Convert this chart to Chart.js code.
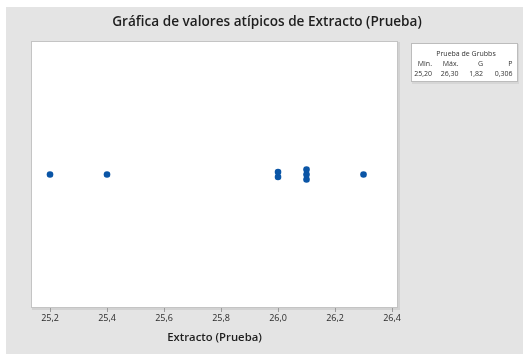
<!DOCTYPE html>
<html>
<head>
<meta charset="utf-8">
<script src="https://cdn.jsdelivr.net/npm/chart.js@4.4.0/dist/chart.umd.min.js"></script>
<style>
  html, body { margin: 0; padding: 0; background: #ffffff; }
  #wrap { width: 523px; height: 354px; }
</style>
</head>
<body>
<div id="wrap"><canvas id="outlierChart" width="523" height="354"></canvas></div>
<script>
"use strict";

// datos de la prueba (Extracto)
var extracto = [25.2, 25.4, 26.0, 26.0, 26.1, 26.1, 26.1, 26.3];
var xTicks = [25.2, 25.4, 25.6, 25.8, 26.0, 26.2, 26.4];
var grubbsHeaders = ['Min.', 'Máx.', 'G', 'P'];
var grubbsValues = ['25,20', '26,30', '1,82', '0,306'];

var chartTitle = 'Gráfica de valores atípicos de Extracto (Prueba)';
var axisTitle = 'Extracto (Prueba)';

// apilar puntos repetidos (como el gráfico de puntos de Minitab)
var counts = {};
extracto.forEach(function (v) { counts[v] = (counts[v] || 0) + 1; });
var seen = {};
var points = extracto.map(function (v) {
    var n = counts[v];
    var i = seen[v] || 0;
    seen[v] = i + 1;
    return { x: v, y: (i - (n - 1) / 2) * 0.5 };
});

var fontFam = '"Open Sans", "Noto Sans", sans-serif';

var decor = {
    id: 'decor',
    beforeDraw: function (chart) {
        var c = chart.ctx;
        var a = chart.chartArea;
        c.save();
        c.fillStyle = '#e4e4e4';
        c.fillRect(6, 7, chart.width - 6, chart.height - 7);
        // plot area
        c.fillStyle = '#d2d2d2';
        c.fillRect(a.left + 1, a.top + 1, a.right - a.left + 1, a.bottom - a.top + 1);
        c.fillStyle = '#ffffff';
        c.fillRect(a.left, a.top, a.right - a.left, a.bottom - a.top);
        c.strokeStyle = '#c4c4c4';
        c.lineWidth = 1;
        c.strokeRect(a.left + 0.5, a.top + 0.5, a.right - a.left - 1, a.bottom - a.top - 1);
        // title
        c.fillStyle = '#1e1e1e';
        c.font = '600 13.6px ' + fontFam;
        c.textAlign = 'center';
        c.textBaseline = 'middle';
        c.fillText(chartTitle, 267, 22);
        // tabla de Grubbs
        c.fillStyle = '#d6d6d6';
        c.fillRect(412, 44, 107, 40);
        c.fillStyle = '#ffffff';
        c.fillRect(411, 43, 107, 39);
        c.strokeStyle = '#bcbcbc';
        c.strokeRect(411.5, 43.5, 106, 38);
        c.fillStyle = '#333333';
        c.font = '7px ' + fontFam;
        c.fillText('Prueba de Grubbs', 466, 54);
        c.textAlign = 'right';
        var colRight = [432, 458.5, 483, 512.5];
        for (var i = 0; i < grubbsHeaders.length; i++) {
            c.fillText(grubbsHeaders[i], colRight[i], 64);
            c.fillText(grubbsValues[i], colRight[i], 74);
        }
        c.restore();
    }
};

var ctx = document.getElementById('outlierChart').getContext('2d');
var myChart = new Chart(ctx, {
    type: 'scatter',
    data: {
        datasets: [{
            label: 'Extracto (Prueba)',
            data: points,
            backgroundColor: '#0a55a6',
            borderColor: '#0a55a6',
            pointRadius: 3.3,
            pointHoverRadius: 3.3,
            borderWidth: 0
        }]
    },
    options: {
        responsive: false,
        animation: false,
        layout: {
            padding: { left: 31, right: 125, top: 41, bottom: 0 }
        },
        plugins: {
            legend: { display: false },
            tooltip: { enabled: false },
            title: { display: false }
        },
        scales: {
            x: {
                type: 'linear',
                min: 25.1333,
                max: 26.421,
                afterFit: function (scale) { scale.height = 46; },
                afterBuildTicks: function (scale) {
                    scale.ticks = xTicks.map(function (v) { return { value: v }; });
                },
                ticks: {
                    includeBounds: false,
                    padding: 1,
                    color: '#2a2a2a',
                    font: { family: fontFam, size: 9 },
                    maxRotation: 0,
                    callback: function (v) { return v.toFixed(1).replace('.', ','); }
                },
                grid: {
                    drawOnChartArea: false,
                    drawTicks: true,
                    tickLength: 4,
                    color: '#9a9a9a'
                },
                border: { display: false },
                title: {
                    display: true,
                    text: axisTitle,
                    color: '#1e1e1e',
                    font: { family: fontFam, size: 11.3, weight: '600' },
                    padding: { top: 0, bottom: 9 }
                }
            },
            y: {
                display: false,
                min: -13.35,
                max: 13.35
            }
        }
    },
    plugins: [decor]
});
</script>
</body>
</html>
